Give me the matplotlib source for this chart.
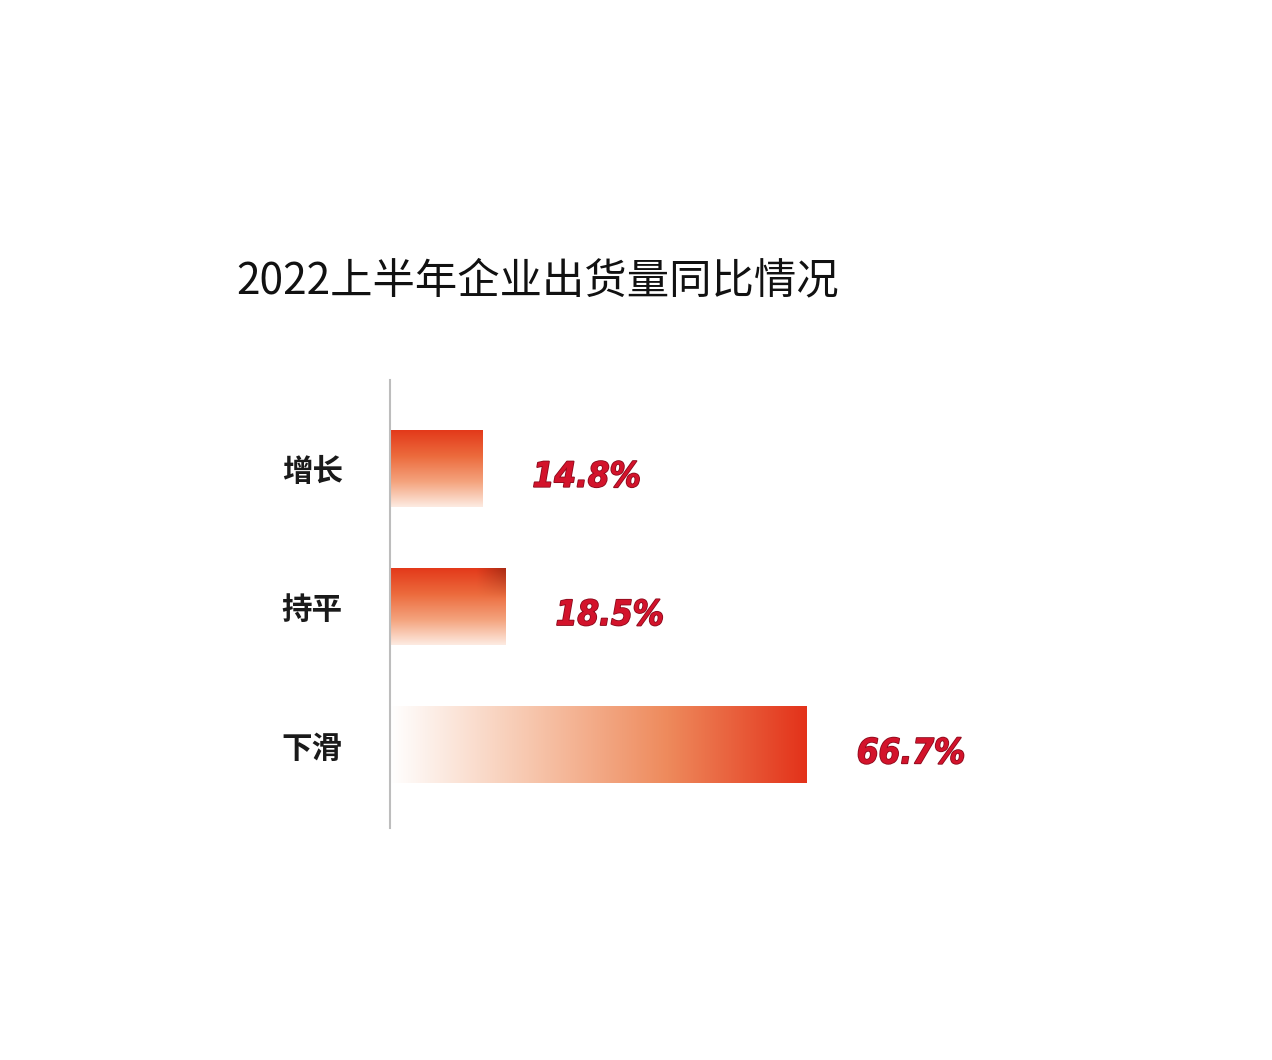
import matplotlib
matplotlib.use("Agg")
import matplotlib.pyplot as plt
import numpy as np
from matplotlib.colors import LinearSegmentedColormap
import matplotlib.patheffects as pe

plt.rcParams['font.family'] = ['Noto Sans CJK SC', 'DejaVu Sans']

title = "2022上半年企业出货量同比情况"
categories = ["增长", "持平", "下滑"]
values = [14.8, 18.5, 66.7]
labels = ["14.8%", "18.5%", "66.7%"]

W, H = 1272, 1060
fig = plt.figure(figsize=(W / 100, H / 100), dpi=100)
fig.patch.set_facecolor("white")

scale = 6.25  # px per percent
ax = fig.add_axes([390 / W, 1 - 828 / H, 720 / W, 448 / H])

bars = ax.barh(range(len(values)), values, height=0.55, color="none", edgecolor="none")

cmap_v = LinearSegmentedColormap.from_list("v", ["#E3391A", "#EC6A3C", "#F4A27C", "#FDEBE2"])
cmap_h = LinearSegmentedColormap.from_list("h", ["#FFFFFF", "#F7C7AE", "#EE8A5C", "#E3321A"])

for i, b in enumerate(bars):
    x0, y0 = b.get_x(), b.get_y()
    w, h = b.get_width(), b.get_height()
    if i < 2:
        grad = np.linspace(0, 1, 256).reshape(-1, 1) * np.ones((1, 64))
        img = cmap_v(grad)
        if i == 1:
            xx = np.linspace(0, 1, 64)[None, :]
            yy = np.linspace(0, 1, 256)[:, None]
            dark = np.clip((xx - 0.75) * 4, 0, 1) * np.clip(1 - yy * 2.5, 0, 1)
            img[..., :3] = img[..., :3] * (1 - 0.25 * dark[..., None])
        ax.imshow(img, extent=[x0, x0 + w, y0 + h, y0], aspect="auto",
                  interpolation="bilinear", zorder=2)
    else:
        grad = np.linspace(0, 1, 256).reshape(1, -1) * np.ones((16, 1))
        ax.imshow(cmap_h(grad), extent=[x0, x0 + w, y0 + h, y0], aspect="auto",
                  interpolation="bilinear", zorder=2)
    ax.text(x0 + w + 50 / scale, y0 + h / 2 + 0.06, labels[i], ha="left", va="center",
            fontsize=25, fontweight="bold", fontstretch="condensed", style="italic",
            color="#D3132B", family=["DejaVu Sans"],
            path_effects=[pe.withStroke(linewidth=1.2, foreground="#8a0a1c")],
            zorder=3)

ax.set_xlim(0, 720 / scale)
ax.set_ylim(2.6, -0.64)

for s in ["top", "right", "bottom"]:
    ax.spines[s].set_visible(False)
ax.spines["left"].set_color("#bdbdbd")
ax.spines["left"].set_linewidth(1.5)
ax.set_xticks([])
ax.set_yticks(range(len(categories)))
ax.set_yticklabels(categories, fontsize=22, fontweight="bold", color="#1a1a1a")
ax.tick_params(axis="y", length=0, pad=34)
ax.set_facecolor("none")

fig.text(538 / W, 1 - 281 / H, title, ha="center", va="center", fontsize=30.5,
         fontweight="medium", color="#111111")

fig.savefig("out.png", dpi=100, facecolor="white")
